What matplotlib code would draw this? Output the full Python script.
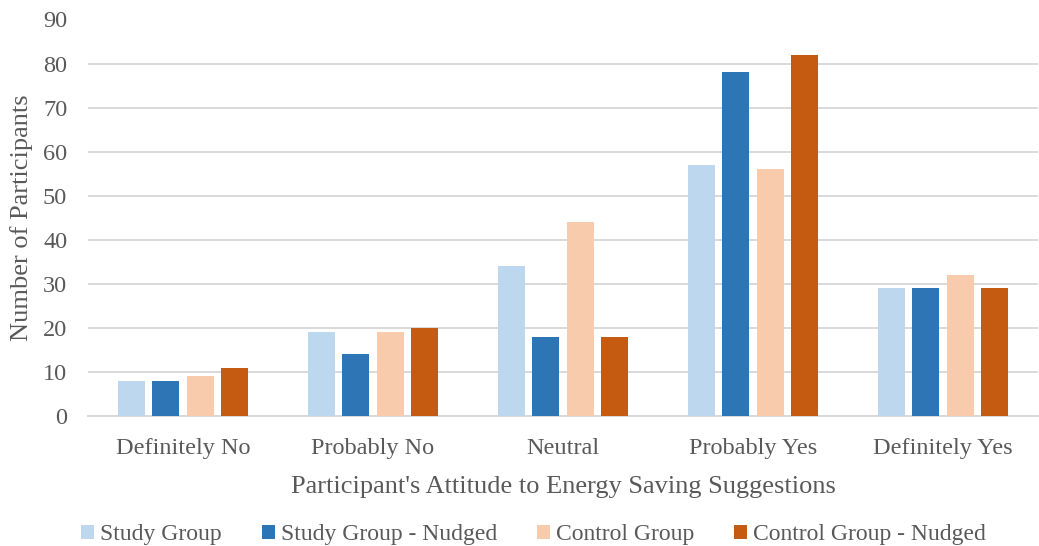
import numpy as np
import matplotlib.pyplot as plt

plt.rcParams['font.family'] = ['Liberation Serif', 'DejaVu Serif']

# --- Data ---
categories = ['Definitely No', 'Probably No', 'Neutral', 'Probably Yes', 'Definitely Yes']
series_names = ['Study Group', 'Study Group - Nudged', 'Control Group', 'Control Group - Nudged']
study = [8, 19, 34, 57, 29]
study_nudged = [8, 14, 18, 78, 29]
control = [9, 19, 44, 56, 32]
control_nudged = [11, 20, 18, 82, 29]

colors = ['#BDD7EE', '#2E75B6', '#F8CBAD', '#C55A11']
text_col = '#595959'
grid_col = '#D9D9D9'

fig = plt.figure(figsize=(10.39, 5.46), dpi=100)
ax = fig.add_axes([88 / 1039, 1 - 416 / 546, 950 / 1039, (416 - 19.5) / 546])

x = np.arange(len(categories))
width = 0.142
step = 0.182
for i, (vals, name) in enumerate(zip([study, study_nudged, control, control_nudged], series_names)):
    offset = (i - 1.5) * step
    ax.bar(x + offset, vals, width, color=colors[i], label=name, zorder=3)

ax.set_xlim(-0.5, len(categories) - 0.5)
ax.set_ylim(0, 90)
ax.set_yticks(range(0, 91, 10))
ax.set_xticks(x)
ax.set_xticklabels(categories)
ax.tick_params(axis='both', length=0, labelsize=17.5, labelcolor=text_col)
ax.tick_params(axis='x', pad=16)
ax.tick_params(axis='y', pad=15)
ax.grid(axis='y', color=grid_col, linewidth=1.4, zorder=0)

for s in ['top', 'right', 'left']:
    ax.spines[s].set_visible(False)
ax.spines['bottom'].set_color(grid_col)
ax.spines['bottom'].set_linewidth(1.4)

ax.set_ylabel('Number of Participants', fontsize=19, color=text_col, labelpad=7)
ax.set_xlabel("Participant's Attitude to Energy Saving Suggestions", fontsize=19,
              color=text_col, labelpad=12)

handles, labels = ax.get_legend_handles_labels()
leg = fig.legend(handles, labels, loc='center', bbox_to_anchor=(533.5 / 1039, 1 - 534.5 / 546),
                 ncol=4, frameon=False, fontsize=17, handlelength=0.55, handleheight=0.55,
                 handletextpad=0.25, columnspacing=1.7)
for t in leg.get_texts():
    t.set_color(text_col)

fig.savefig('out.png', dpi=100)
